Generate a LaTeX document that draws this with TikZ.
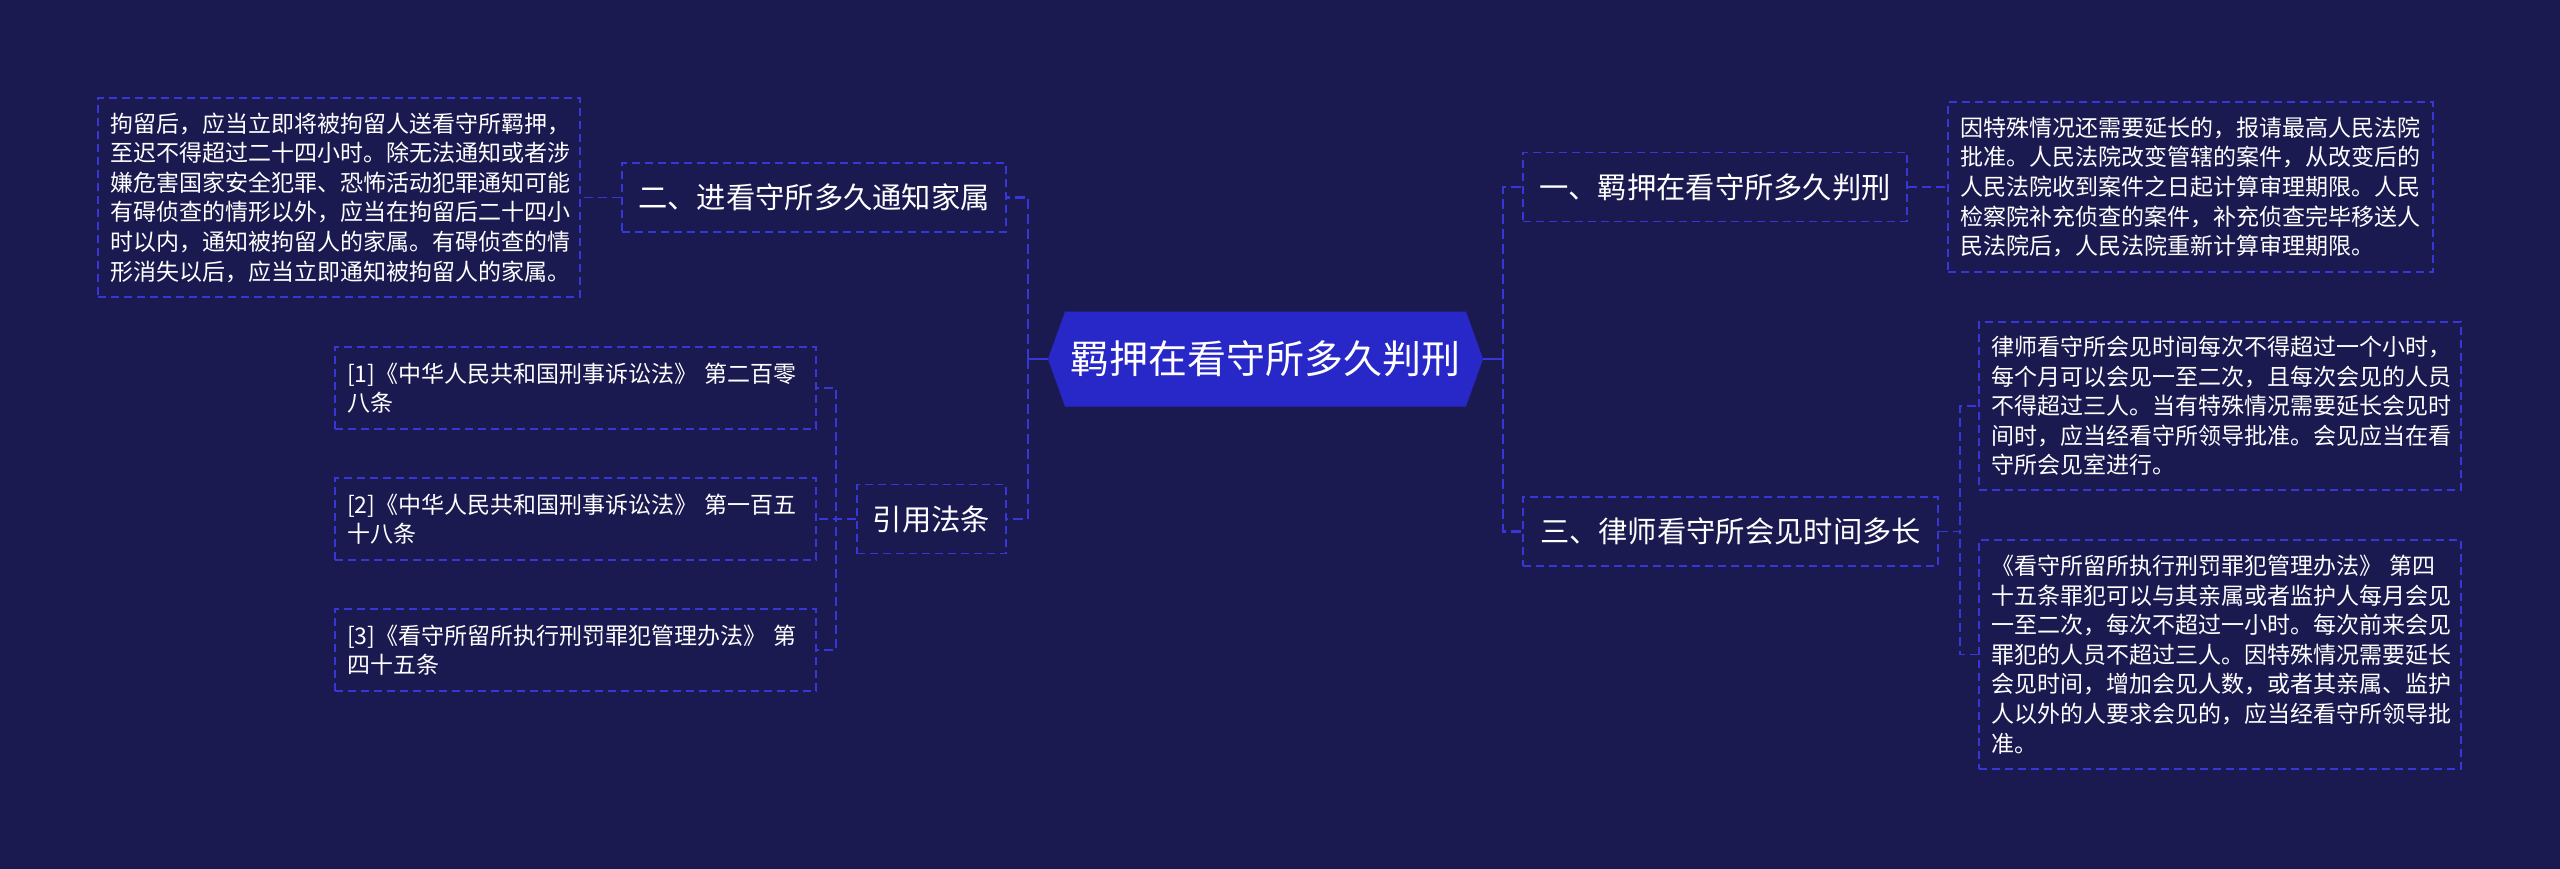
\documentclass[tikz,border=0pt]{standalone}
\usepackage{fontspec}
\setmainfont{Noto Sans CJK SC}
\definecolor{bg}{RGB}{27,26,80}
\definecolor{ln}{RGB}{55,55,215}
\definecolor{hexfill}{RGB}{40,40,200}
\begin{document}
\begin{tikzpicture}[x=1pt,y=-1pt,
  hdr/.style={draw=ln, line width=1.7pt, dash pattern=on 8pt off 5pt, text=white, inner sep=0pt, minimum height=69pt, font=\fontsize{29.3}{29.3}\selectfont},
  detail/.style={draw=ln, line width=1.7pt, dash pattern=on 8pt off 5pt, text=white, inner sep=0pt, align=left, font=\fontsize{23}{29.6}\selectfont},
  rootnode/.style={text=white, inner sep=0pt, minimum width=435pt, minimum height=95pt, font=\fontsize{39}{39}\selectfont},
  conn/.style={draw=ln, line width=2.6pt, dash pattern=on 10pt off 5pt},
  subconn/.style={draw=ln, line width=1.8pt, dash pattern=on 9pt off 5pt}]
\useasboundingbox (0,0) rectangle (2560,869);
\fill[bg] (0,0) rectangle (2560,869);
% root hexagon
\fill[hexfill] (1048,359) -- (1065,311.5) -- (1466,311.5) -- (1483,359) -- (1466,406.5) -- (1065,406.5) -- cycle;
\node[rootnode] (root) at (1265.5,359) {羁押在看守所多久判刑};
% right branches
\node[hdr, minimum width=384pt] (b1) at (1715,187) {一、羁押在看守所多久判刑};
\node[hdr, minimum width=415pt] (b3) at (1730.5,531.5) {三、律师看守所会见时间多长};
\node[detail, minimum width=485pt, minimum height=170pt, text width=461pt] (d1) at (2190.5,187) {因特殊情况还需要延长的，报请最高人民法院\\批准。人民法院改变管辖的案件，从改变后的\\人民法院收到案件之日起计算审理期限。人民\\检察院补充侦查的案件，补充侦查完毕移送人\\民法院后，人民法院重新计算审理期限。};
\node[detail, minimum width=482pt, minimum height=168pt, text width=458pt] (d3a) at (2220,406) {律师看守所会见时间每次不得超过一个小时，\\每个月可以会见一至二次，且每次会见的人员\\不得超过三人。当有特殊情况需要延长会见时\\间时，应当经看守所领导批准。会见应当在看\\守所会见室进行。};
\node[detail, minimum width=482pt, minimum height=229pt, text width=458pt] (d3b) at (2220,654.5) {《看守所留所执行刑罚罪犯管理办法》~第四\\十五条罪犯可以与其亲属或者监护人每月会见\\一至二次，每次不超过一小时。每次前来会见\\罪犯的人员不超过三人。因特殊情况需要延长\\会见时间，增加会见人数，或者其亲属、监护\\人以外的人要求会见的，应当经看守所领导批\\准。};
% left branches
\node[hdr, minimum width=384pt] (b2) at (814,197.5) {二、进看守所多久通知家属};
\node[hdr, minimum width=149pt] (b4) at (931.5,519) {引用法条};
\node[detail, minimum width=482pt, minimum height=199pt, text width=458pt] (d2) at (339,197.5) {拘留后，应当立即将被拘留人送看守所羁押，\\至迟不得超过二十四小时。除无法通知或者涉\\嫌危害国家安全犯罪、恐怖活动犯罪通知可能\\有碍侦查的情形以外，应当在拘留后二十四小\\时以内，通知被拘留人的家属。有碍侦查的情\\形消失以后，应当立即通知被拘留人的家属。};
\node[detail, minimum width=481pt, minimum height=82pt, text width=457pt] (r1) at (575.5,388) {[1]《中华人民共和国刑事诉讼法》~第二百零\\八条};
\node[detail, minimum width=481pt, minimum height=82pt, text width=457pt] (r2) at (575.5,519) {[2]《中华人民共和国刑事诉讼法》~第一百五\\十八条};
\node[detail, minimum width=481pt, minimum height=82pt, text width=457pt] (r3) at (575.5,650) {[3]《看守所留所执行刑罚罪犯管理办法》~第\\四十五条};
% root connectors
\coordinate (lj) at (1028,359);
\coordinate (rj) at (1503,359);
\draw[ln, line width=2.6pt] (root.west) -- (lj);
\draw[ln, line width=2.6pt] (root.east) -- (rj);
\draw[conn] (lj) |- (b2.east);
\draw[conn] (lj) |- (b4.east);
\draw[conn] (rj) |- (b1.west);
\draw[conn] (rj) |- (b3.west);
% sub connectors
\draw[subconn] (b2.west) -- (d2.east);
\draw[subconn] (b1.east) -- (d1.west);
\draw[subconn] (b3.east) -- ++(21,0) |- (d3a.west);
\draw[subconn] (b3.east) -- ++(21,0) |- (d3b.west);
\draw[subconn] (b4.west) -- ++(-20,0) |- (r1.east);
\draw[subconn] (b4.west) -- ++(-20,0) |- (r2.east);
\draw[subconn] (b4.west) -- ++(-20,0) |- (r3.east);
\end{tikzpicture}
\end{document}
